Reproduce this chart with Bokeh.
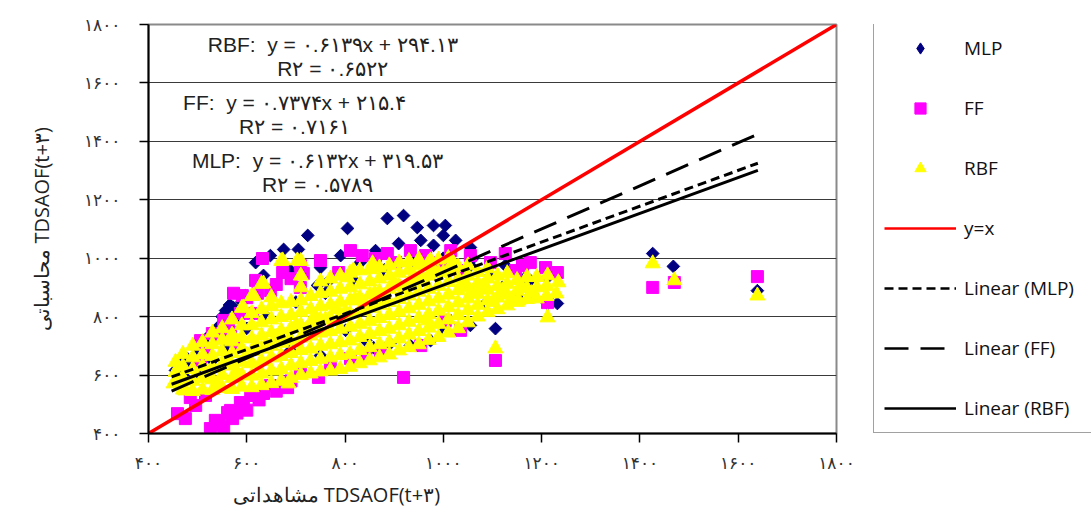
import math
from bokeh.plotting import figure
from bokeh.layouts import row
from bokeh.models import Legend, LegendItem, Label, FixedTicker, Title
from bokeh.embed import file_html
from bokeh.resources import INLINE

# ---------------- data ----------------
ticks = [400, 600, 800, 1000, 1200, 1400, 1600, 1800]
tick_labels = ["۴۰۰", "۶۰۰", "۸۰۰", "۱۰۰۰", "۱۲۰۰", "۱۴۰۰", "۱۶۰۰", "۱۸۰۰"]

mlp_x = [919, 886, 947, 980, 1004, 1000, 805, 724, 675, 705, 909, 980, 1055, 750, 764, 744, 634, 573,
         583, 540, 520, 510, 490, 459, 1106, 974, 1167, 1151, 1086, 1212, 892, 858, 1426, 1468, 1639,
         1232, 1212, 557, 597, 618, 648, 689, 791, 831, 862, 954, 1025, 1055, 1096, 1126, 1177, 801,
         842, 933, 1004, 1055, 689, 750, 470, 500, 530, 560, 600, 640, 700, 760, 820, 880, 940, 1000,
         1060, 1120, 1180, 567, 540, 520, 490, 471, 455, 565, 580, 590, 550, 545, 530, 500, 480, 465]
mlp_y = [1146, 1136, 1105, 1112, 1112, 1078, 1102, 1078, 1030, 1030, 1050, 1044, 1037, 968, 917, 907, 941, 831,
         797, 759, 725, 677, 640, 622, 759, 718, 934, 866, 845, 845, 708, 694, 1016, 972, 889,
         845, 934, 821, 872, 985, 1009, 958, 1009, 985, 1026, 1061, 1061, 975, 941, 975, 924, 753,
         718, 701, 753, 770, 684, 667, 600, 610, 650, 700, 760, 800, 850, 880, 920, 960, 990, 1000,
         1000, 900, 880, 838, 753, 729, 650, 626, 616, 840, 815, 850, 800, 770, 740, 690, 655, 635]

ff_x = [632, 673, 715, 787, 835, 886, 933, 1015, 1126, 1161, 1208, 1232, 1212, 1106, 919, 746, 683, 634,
        593, 561, 536, 553, 459, 475, 485, 591, 563, 542, 1004, 842, 567, 587, 608, 530, 506, 553, 587,
        1426, 1470, 1639, 516, 496, 571, 526, 648, 709, 770, 811, 872, 954, 1035, 709, 750, 811, 862,
        903, 964, 994, 1055, 1096, 1147, 1177, 1035, 618, 648, 577, 516, 506, 545, 580, 600, 625, 660, 690,
        573, 600, 622, 612, 567, 709, 660, 690]
ff_y = [999, 951, 948, 951, 1009, 1016, 1026, 1026, 1016, 975, 968, 951, 848, 650, 592, 592, 557, 537,
        496, 472, 445, 421, 468, 451, 523, 872, 759, 735, 787, 667, 479, 506, 530, 742, 640, 787, 811,
        900, 917, 937, 530, 496, 451, 417, 564, 609, 633, 657, 684, 701, 753, 975, 992, 1026, 999,
        985, 1009, 985, 1009, 985, 958, 985, 958, 924, 889, 701, 684, 718, 430, 470, 480, 515, 545, 580,
        880, 865, 880, 811, 745, 900, 910, 930]

rbf_x = [455, 455, 455,
         470, 470, 470, 470,
         490, 490, 490, 490, 490,
         510, 510, 510, 510, 510,
         530, 530, 530, 530, 530, 530,
         550, 550, 550, 550, 550, 550,
         570, 570, 570, 570, 570, 570, 570,
         590, 590, 590, 590, 590, 590, 590,
         610, 610, 610, 610, 610, 610, 610, 610,
         630, 630, 630, 630, 630, 630, 630, 630,
         650, 650, 650, 650, 650, 650, 650, 650,
         670, 670, 670, 670, 670, 670, 670, 670,
         690, 690, 690, 690, 690, 690, 690,
         710, 710, 710, 710, 710, 710, 710, 710, 710, 710,
         730, 730, 730, 730, 730, 730, 730,
         750, 750, 750, 750, 750, 750, 750, 750,
         770, 770, 770, 770, 770, 770, 770, 770,
         790, 790, 790, 790, 790, 790, 790, 790,
         810, 810, 810, 810, 810, 810, 810, 810,
         830, 830, 830, 830, 830, 830, 830, 830,
         850, 850, 850, 850, 850, 850, 850, 850,
         870, 870, 870, 870, 870, 870, 870, 870,
         890, 890, 890, 890, 890, 890, 890, 890,
         910, 910, 910, 910, 910, 910, 910, 910,
         930, 930, 930, 930, 930, 930, 930, 930,
         950, 950, 950, 950, 950, 950, 950, 950,
         970, 970, 970, 970, 970, 970, 970,
         990, 990, 990, 990, 990, 990, 990,
         1010, 1010, 1010, 1010, 1010, 1010, 1010,
         1030, 1030, 1030, 1030, 1030, 1030,
         1050, 1050, 1050, 1050, 1050, 1050,
         1070, 1070, 1070, 1070, 1070,
         1090, 1090, 1090, 1090, 1090,
         1110, 1110, 1110, 1110,
         1130, 1130, 1130, 1130,
         1150, 1150, 1150,
         1170, 1170, 1170,
         1190, 1190, 1190,
         1210, 1210,
         1212, 1230, 1234, 1212, 1106, 1153, 1426, 1470, 1639, 673, 703, 614, 634, 593, 571,
         451, 475, 685, 856, 817, 805, 974, 968,
         520, 560, 600, 640, 680, 720, 760, 800, 840, 880, 920, 960, 1000, 1040, 1080, 1120, 1160,
         540, 580, 620, 660, 700, 740, 780, 820, 860, 900, 940, 980, 1020, 1060, 1100, 1140, 1180]
rbf_y = [575, 610, 645,
         550, 590, 630, 672,
         545, 580, 620, 660, 700,
         550, 590, 630, 670, 712,
         548, 585, 625, 665, 705, 745,
         555, 600, 640, 680, 720, 760,
         552, 590, 632, 675, 715, 738, 790,
         560, 600, 645, 690, 730, 770, 830,
         558, 598, 640, 682, 725, 770, 812, 870,
         565, 605, 648, 690, 735, 780, 825, 912,
         572, 615, 660, 700, 745, 790, 835, 866,
         580, 620, 665, 710, 752, 798, 845, 990,
         590, 632, 675, 718, 760, 805, 850,
         600, 640, 685, 728, 770, 815, 855, 900, 940, 990,
         605, 648, 690, 735, 780, 825, 870,
         612, 655, 700, 745, 790, 835, 880, 920,
         615, 660, 705, 750, 795, 840, 885, 930,
         620, 668, 712, 758, 805, 850, 895, 940,
         628, 672, 718, 765, 810, 855, 900, 950,
         640, 685, 730, 775, 820, 865, 910, 958,
         650, 695, 740, 785, 830, 875, 920, 962,
         660, 705, 750, 795, 840, 885, 930, 968,
         670, 712, 758, 805, 850, 895, 940, 975,
         684, 725, 770, 815, 860, 905, 950, 985,
         695, 738, 782, 828, 872, 915, 960, 990,
         705, 750, 795, 840, 885, 930, 975, 995,
         720, 762, 808, 852, 895, 940, 985,
         730, 775, 820, 862, 905, 950, 995,
         745, 790, 832, 875, 918, 960, 1000,
         760, 805, 848, 890, 930, 970,
         780, 822, 862, 900, 940, 975,
         800, 840, 878, 915, 952,
         815, 855, 892, 930, 965,
         825, 865, 905, 940,
         838, 875, 912, 948,
         850, 888, 925,
         860, 898, 935,
         862, 900, 935,
         870, 905,
         797, 879, 917, 941, 691, 855, 982, 924, 872, 992, 992, 872, 913, 831, 735,
         571, 547, 571, 982, 958, 934, 992, 787,
         610, 650, 668, 705, 730, 755, 790, 815, 845, 870, 895, 925, 950, 915, 900, 890, 900,
         570, 610, 700, 730, 770, 800, 825, 860, 880, 915, 940, 960, 985, 880, 850, 860, 880]

series_names = ["MLP", "FF", "RBF"]
fit_slope = [0.6132, 0.7374, 0.6139]
fit_intercept = [319.53, 215.4, 294.13]
fit_r2 = ["۰.۵۷۸۹", "۰.۷۱۶۱", "۰.۶۵۲۲"]
fit_eq = ["MLP:\u00a0 y = ۰.۶۱۳۲x + ۳۱۹.۵۳", "FF:\u00a0 y = ۰.۷۳۷۴x + ۲۱۵.۴",
          "RBF:\u00a0 y = ۰.۶۱۳۹x + ۲۹۴.۱۳"]
fit_span = [447, 1640]
identity_span = [400, 1800]
legend_labels = ["MLP", "FF", "RBF", "y=x", "Linear (MLP)", "Linear (FF)", "Linear (RBF)"]

x_title = "مشاهداتی TDSAOF(t+۳)"
y_title = "محاسباتی TDSAOF(t+۳)"

MLP_COLOR, FF_COLOR, RBF_COLOR, ID_COLOR = "#000080", "#FF00FF", "#FFFF00", "#FF0000"
dashes = ["9 5", "24 12", "solid"]

# ---------------- main figure ----------------
p = figure(frame_width=688, frame_height=409,
           min_border_left=148, min_border_right=37, min_border_top=24, min_border_bottom=78,
           x_range=(400, 1800), y_range=(400, 1800),
           output_backend="svg", toolbar_location=None,
           background_fill_color="white", border_fill_color="white")

p.outline_line_color = "#8a8a8a"
p.outline_line_width = 2
p.xgrid.visible = False
p.ygrid.grid_line_color = "#3a3a3a"
p.ygrid.grid_line_width = 1
p.ygrid.ticker = FixedTicker(ticks=ticks)

overrides = {t: l for t, l in zip(ticks, tick_labels)}
for ax in (p.xaxis[0], p.yaxis[0]):
    ax.ticker = FixedTicker(ticks=ticks)
    ax.major_label_overrides = overrides
    ax.minor_tick_line_color = None
    ax.major_tick_in = 0
    ax.major_tick_out = 9
    ax.axis_line_color = "black"
    ax.axis_line_width = 2
    ax.major_tick_line_color = "black"
    ax.major_tick_line_width = 1.5
    ax.major_label_text_font = "DejaVu Sans"
    ax.major_label_text_font_size = "17px"
    ax.major_label_text_color = "#333333"
p.yaxis[0].major_label_standoff = 19
p.xaxis[0].major_label_standoff = 10

p.yaxis[0].axis_label = y_title
p.yaxis[0].axis_label_text_font = "Open Sans"
p.yaxis[0].axis_label_text_font_size = "20px"
p.yaxis[0].axis_label_text_font_style = "normal"
p.yaxis[0].axis_label_text_color = "#222222"
p.yaxis[0].axis_label_standoff = 26

p.add_layout(Title(text=x_title, align="left", offset=84, text_font="Open Sans",
                   text_font_size="20px", text_font_style="normal", text_color="#222222",
                   standoff=6), "below")

r_mlp = p.scatter(mlp_x, mlp_y, marker="square", angle=math.pi / 4, size=9,
                  fill_color=MLP_COLOR, line_color=MLP_COLOR)
r_ff = p.scatter(ff_x, ff_y, marker="square", size=12,
                 fill_color=FF_COLOR, line_color=FF_COLOR)
r_rbf = p.scatter(rbf_x, rbf_y, marker="triangle", size=15,
                  fill_color=RBF_COLOR, line_color=RBF_COLOR)

r_id = p.line(identity_span, identity_span, line_color=ID_COLOR, line_width=3.5)

for k in range(3):
    ys = [fit_slope[k] * v + fit_intercept[k] for v in fit_span]
    p.line(fit_span, ys, line_color="black", line_width=3, line_dash=dashes[k])

# equation labels (RBF top, FF middle, MLP bottom)
eq_pos = {"RBF": (775, 1732, 1649), "FF": (697, 1533, 1451), "MLP": (744, 1334, 1252)}
for k, name in enumerate(series_names):
    cx, y1, y2 = eq_pos[name]
    p.add_layout(Label(x=cx, y=y1, text=fit_eq[k], text_align="center", text_baseline="middle",
                       text_font="Liberation Sans", text_font_size="21px", text_color="#222222"))
    p.add_layout(Label(x=cx, y=y2, text="R۲ = " + fit_r2[k], text_align="center",
                       text_baseline="middle", text_font="Liberation Sans",
                       text_font_size="21px", text_color="#222222"))

# ---------------- legend panel ----------------
lg = figure(width=218, height=511, min_border_left=0, min_border_right=0,
            min_border_top=24, min_border_bottom=78, x_range=(0, 1), y_range=(0, 1),
            output_backend="svg", toolbar_location=None,
            background_fill_color="white", border_fill_color="white")
lg.axis.visible = False
lg.grid.visible = False
lg.outline_line_color = None

# proxy glyphs (placed outside the visible range) that only feed the legend
off = [-5]
d_mlp = lg.scatter(off, off, marker="diamond", size=14,
                   fill_color=MLP_COLOR, line_color=MLP_COLOR)
d_ff = lg.scatter(off, off, marker="square", size=12, fill_color=FF_COLOR, line_color=FF_COLOR)
d_rbf = lg.scatter(off, off, marker="triangle", size=15, fill_color=RBF_COLOR, line_color=RBF_COLOR)
d_id = lg.line([-5, -4], [-5, -4], line_color=ID_COLOR, line_width=2.5)
d_fit = [lg.line([-5, -4], [-5, -4], line_color="black", line_width=2.5, line_dash=dashes[k])
         for k in range(3)]
proxies = [d_mlp, d_ff, d_rbf, d_id] + d_fit

legend = Legend(items=[LegendItem(label=lab, renderers=[r]) for lab, r in zip(legend_labels, proxies)],
                location=(0, 0))
legend.padding = 10
legend.spacing = 32
legend.glyph_width = 72
legend.glyph_height = 28
legend.label_height = 28
legend.label_width = 140
legend.label_standoff = 8
legend.label_text_font = "Open Sans"
legend.label_text_font_size = "19px"
legend.label_text_color = "#111111"
legend.border_line_color = "#444444"
legend.border_line_width = 1.5
legend.background_fill_alpha = 1
legend.margin = 0
lg.add_layout(legend)

layout = row(p, lg, spacing=0)
open("out.html", "w").write(file_html(layout, INLINE))
